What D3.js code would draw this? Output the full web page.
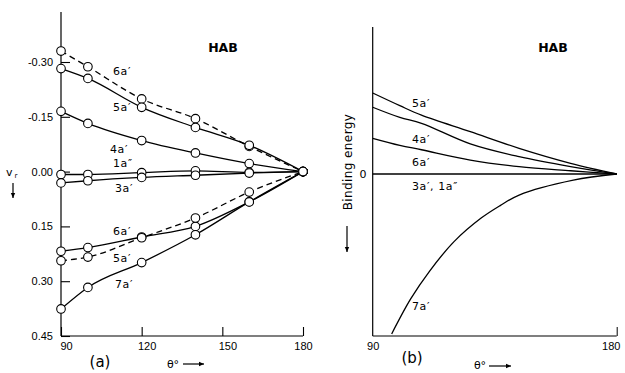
<!DOCTYPE html>
<html>
<head>
<meta charset="utf-8">
<script src="https://cdn.jsdelivr.net/npm/d3@7"></script>
<style>
  body { margin: 0; background: #fff; }
  svg { font-family: "DejaVu Sans", sans-serif; }
  .lbl { font-size: 11px; letter-spacing: 0.6px; }
  .tick text { font-size: 11px; }
</style>
</head>
<body>
<svg id="chart" width="625" height="373"></svg>
<script>
// panel (a): theta values where points were computed
var thetaA = [90, 100, 120, 140, 160, 180];
var up6a = [-0.330, -0.287, -0.199, -0.145, -0.069, 0];
var up5a = [-0.282, -0.255, -0.176, -0.121, -0.072, 0];
var up4a = [-0.165, -0.132, -0.085, -0.051, -0.022, 0];
var up1a2 = [0.008, 0.008, 0.003, -0.002, 0.002, 0];
var up3a = [0.031, 0.025, 0.016, 0.010, 0.004, 0];
var lo6a = [0.218, 0.208, 0.179, 0.150, 0.083, 0];
var lo5a = [0.244, 0.234, 0.181, 0.127, 0.056, 0];
var lo7a = [0.376, 0.317, 0.249, 0.173, 0.083, 0];
var yTicksA = [-0.30, -0.15, 0.00, 0.15, 0.30, 0.45];
var yTickLabelsA = ["-0.30", "-0.15", "0.00", "0.15", "0.30", "0.45"];
var xTicksA = [90, 120, 150, 180];

// panel (b): schematic binding energies (arbitrary units)
var thetaB = [90, 100, 108, 126, 144, 163, 180];
var b5a = [0.551, 0.465, 0.400, 0.288, 0.175, 0.073, 0];
var b4a = [0.454, 0.385, 0.345, 0.205, 0.118, 0.050, 0];
var b6a = [0.243, 0.195, 0.165, 0.095, 0.050, 0.022, 0];
var b3a = [0, 0, 0, 0, 0, 0, 0];
var thetaB7 = [97, 104, 111, 120, 130, 137, 144, 164, 180];
var b7a = [-1.088, -0.85, -0.66, -0.46, -0.30, -0.215, -0.143, -0.042, 0];
var xTicksB = [90, 180];

var svg = d3.select("#chart");

function zip(xs, ys) {
  return xs.map(function(d, i) { return [d, ys[i]]; });
}

function arrow(g, x1, y1, x2, y2) {
  g.append("line").attr("x1", x1).attr("y1", y1).attr("x2", x2).attr("y2", y2)
    .attr("stroke", "#000").attr("stroke-width", 1.2);
  var a = Math.atan2(y2 - y1, x2 - x1), L = 5, W = 2.2;
  var p = [[x2, y2],
    [x2 - L * Math.cos(a) + W * Math.sin(a), y2 - L * Math.sin(a) - W * Math.cos(a)],
    [x2 - L * Math.cos(a) - W * Math.sin(a), y2 - L * Math.sin(a) + W * Math.cos(a)]];
  g.append("path").attr("d", "M" + p.join("L") + "Z").attr("fill", "#000");
}

// font size goes through style() so it wins over the .lbl rule
function label(x, y, t, size) {
  var s = svg.append("text").attr("class", "lbl").attr("x", x).attr("y", y).text(t);
  if (size) s.style("font-size", size + "px").style("letter-spacing", "0px");
  return s;
}

// ---------- panel (a)
var xA = d3.scaleLinear().domain([90, 180]).range([61, 303]);
var yA = d3.scaleLinear().domain([-0.30, 0.45]).range([62, 336]);

var gA = svg.append("g");

gA.append("g")
  .attr("transform", "translate(" + xA(90) + ",0)")
  .call(d3.axisLeft(yA).tickValues(yTicksA).tickSize(-9).tickPadding(8)
    .tickFormat(function(d, i) { return yTickLabelsA[i]; }))
  .call(function(g) { g.select(".domain").remove(); });

gA.append("g")
  .attr("transform", "translate(0," + yA(0.45) + ")")
  .call(d3.axisBottom(xA).tickValues(xTicksA).tickSize(-9).tickPadding(6))
  .call(function(g) {
    g.select(".domain").remove();
    g.selectAll(".tick text").attr("dx", function(d) { return d < 180 ? 5 : 0; });
  });

gA.append("line").attr("x1", xA(90)).attr("x2", xA(90)).attr("y1", 12).attr("y2", yA(0.45))
  .attr("stroke", "#000").attr("stroke-width", 1.2);
gA.append("line").attr("x1", xA(90)).attr("x2", xA(180)).attr("y1", yA(0.45)).attr("y2", yA(0.45))
  .attr("stroke", "#000").attr("stroke-width", 1.2);
gA.selectAll(".tick line").attr("stroke-width", 1.1);

var lineA = d3.line()
  .x(function(d) { return xA(d[0]); })
  .y(function(d) { return yA(d[1]); })
  .curve(d3.curveMonotoneX);

var seriesA = [
  {v: up6a, dash: true}, {v: up5a}, {v: up4a}, {v: up1a2}, {v: up3a},
  {v: lo6a}, {v: lo5a, dash: true}, {v: lo7a}
];

seriesA.forEach(function(s) {
  gA.append("path")
    .datum(zip(thetaA, s.v))
    .attr("d", lineA)
    .attr("fill", "none")
    .attr("stroke", "#000")
    .attr("stroke-width", 1.3)
    .attr("stroke-dasharray", s.dash ? "6,4" : null);
});

seriesA.forEach(function(s) {
  gA.selectAll(null)
    .data(zip(thetaA, s.v))
    .enter().append("circle")
    .attr("cx", function(d) { return xA(d[0]); })
    .attr("cy", function(d) { return yA(d[1]); })
    .attr("r", 4.3)
    .attr("fill", "#fff")
    .attr("stroke", "#000")
    .attr("stroke-width", 1.1);
});

label(113, 75, "6a\u2032");
label(113, 111, "5a\u2032");
label(110, 153, "4a\u2032");
label(113, 167, "1a\u2033");
label(115, 192, "3a\u2032");
label(113, 235, "6a\u2032");
label(113, 262, "5a\u2032");
label(115, 288, "7a\u2032");
label(223, 52, "HAB", 12.5).attr("font-weight", "bold").attr("text-anchor", "middle");

label(6, 176, "v", 11);
label(14.5, 178, "r", 7);
arrow(svg, 13, 183, 13, 198);

label(100, 367, "(a)", 15).attr("text-anchor", "middle");
label(173, 368, "\u03b8\u00b0", 11).attr("text-anchor", "middle");
arrow(svg, 183, 364, 204, 364);

// ---------- panel (b)
var xB = d3.scaleLinear().domain([90, 180]).range([372.7, 616.7]);
var yB = d3.scaleLinear().domain([-1.102, 1.0]).range([336, 27]);

var gB = svg.append("g");

gB.append("g")
  .attr("transform", "translate(0," + yB(-1.102) + ")")
  .call(d3.axisBottom(xB).tickValues(xTicksB).tickSize(-9).tickPadding(6))
  .call(function(g) {
    g.select(".domain").remove();
    g.selectAll(".tick line").attr("opacity", function(d) { return d === 90 ? 0 : 1; });
    g.selectAll(".tick text").attr("dx", function(d) { return d === 180 ? -6 : 0; });
  });

gB.append("line").attr("x1", xB(90)).attr("x2", xB(90)).attr("y1", yB(1.0)).attr("y2", yB(-1.102))
  .attr("stroke", "#000").attr("stroke-width", 1.2);
gB.append("line").attr("x1", xB(90)).attr("x2", xB(180)).attr("y1", yB(-1.102)).attr("y2", yB(-1.102))
  .attr("stroke", "#000").attr("stroke-width", 1.2);

var lineB = d3.line()
  .x(function(d) { return xB(d[0]); })
  .y(function(d) { return yB(d[1]); })
  .curve(d3.curveCatmullRom);

[zip(thetaB, b5a), zip(thetaB, b4a), zip(thetaB, b6a), zip(thetaB, b3a), zip(thetaB7, b7a)]
  .forEach(function(pts) {
    gB.append("path")
      .datum(pts)
      .attr("d", lineB)
      .attr("fill", "none")
      .attr("stroke", "#000")
      .attr("stroke-width", 1.3);
  });

label(412, 107, "5a\u2032");
label(412, 143, "4a\u2032");
label(412, 166, "6a\u2032");
label(412, 190, "3a\u2032, 1a\u2033");
label(412, 310, "7a\u2032");
label(553, 52, "HAB", 12.5).attr("font-weight", "bold").attr("text-anchor", "middle");
label(363, yB(0) + 4, "0", 11).attr("text-anchor", "middle");

svg.append("text")
  .attr("transform", "translate(352,162) rotate(-90)")
  .attr("text-anchor", "middle")
  .attr("font-size", 12)
  .attr("letter-spacing", 0.4)
  .text("Binding energy");
arrow(svg, 347, 226, 347, 252);

label(412, 363, "(b)", 15).attr("text-anchor", "middle");
label(480, 369, "\u03b8\u00b0", 11).attr("text-anchor", "middle");
arrow(svg, 489, 366, 511, 366);
</script>
</body>
</html>
